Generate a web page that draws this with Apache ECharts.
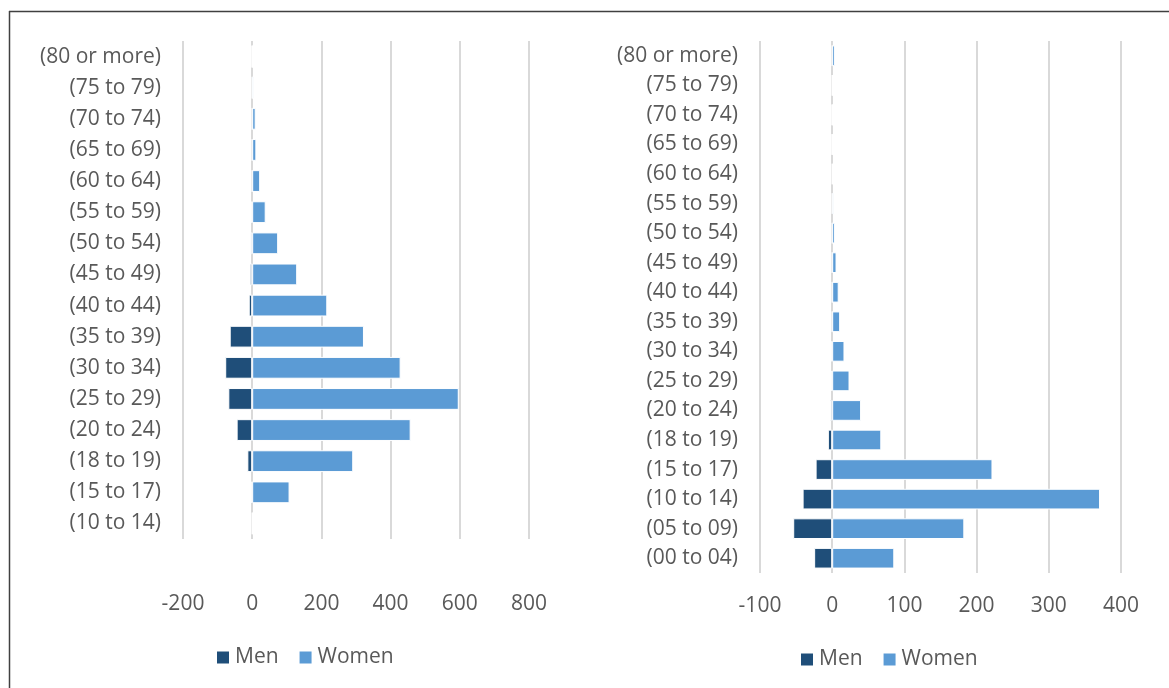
<!DOCTYPE html>
<html>
<head>
<meta charset="utf-8">
<script src="https://cdn.jsdelivr.net/npm/echarts@6/dist/echarts.min.js"></script>
<style>
  html, body { margin: 0; padding: 0; background: #fff; }
  #chart { width: 1169px; height: 688px; }
</style>
</head>
<body>
<div id="chart"></div>
<script>
// Left pyramid: age groups from bottom to top
const leftCategories = ['(10 to 14)', '(15 to 17)', '(18 to 19)', '(20 to 24)', '(25 to 29)', '(30 to 34)',
  '(35 to 39)', '(40 to 44)', '(45 to 49)', '(50 to 54)', '(55 to 59)', '(60 to 64)', '(65 to 69)',
  '(70 to 74)', '(75 to 79)', '(80 or more)'];
const leftMen = [0, -2, -14, -45, -69, -78, -65, -10, -7, -5, -2, 0, 0, 0, 0, 0];
const leftWomen = [2, 108, 292, 458, 597, 429, 323, 217, 130, 75, 39, 23, 12, 10, 4, 0];
const leftTicks = { min: -200, max: 800, interval: 200 };

// Right pyramid: age groups from bottom to top
const rightCategories = ['(00 to 04)', '(05 to 09)', '(10 to 14)', '(15 to 17)', '(18 to 19)', '(20 to 24)',
  '(25 to 29)', '(30 to 34)', '(35 to 39)', '(40 to 44)', '(45 to 49)', '(50 to 54)', '(55 to 59)',
  '(60 to 64)', '(65 to 69)', '(70 to 74)', '(75 to 79)', '(80 or more)'];
const rightMen = [-25, -54, -41, -23, -6, -3, -1, -1, 0, 0, 0, 0, 0, 0, 0, 0, 0, 0];
const rightWomen = [86, 183, 371, 222, 68, 40, 24, 17, 11, 9, 6, 4, 2, 1, 0, 0, 1, 4];
const rightTicks = { min: -100, max: 400, interval: 100 };

const MEN_COLOR = '#1F4E79';
const WOMEN_COLOR = '#5B9BD5';
const TEXT_COLOR = '#595959';
const FONT = '"Open Sans", sans-serif';
const FONT_SIZE = 21;

const chart = echarts.init(document.getElementById('chart'), null, { renderer: 'canvas' });

function valueAxis(gridIndex, ticks, labelMargin) {
  return {
    type: 'value', gridIndex,
    min: ticks.min, max: ticks.max, interval: ticks.interval,
    axisLine: { show: false }, axisTick: { show: false },
    axisLabel: { color: TEXT_COLOR, fontSize: FONT_SIZE, fontFamily: FONT, margin: labelMargin },
    splitLine: { show: true, lineStyle: { color: '#D9D9D9', width: 2 } }
  };
}

function categoryAxis(gridIndex, cats) {
  return {
    type: 'category', gridIndex, data: cats,
    axisLine: { show: false }, axisTick: { show: false },
    axisLabel: { color: TEXT_COLOR, fontSize: FONT_SIZE, fontFamily: FONT, margin: 22 }
  };
}

function barSeries(name, data, color, axisIndex) {
  return {
    name, type: 'bar', stack: 'pyramid' + axisIndex,
    xAxisIndex: axisIndex, yAxisIndex: axisIndex,
    data, barCategoryGap: '30%',
    itemStyle: { color, borderColor: '#ffffff', borderWidth: 1 },
    emphasis: { disabled: true }
  };
}

const legendStyle = {
  data: ['Men', 'Women'],
  orient: 'horizontal',
  padding: 0,
  itemWidth: 14, itemHeight: 14, itemGap: 19,
  icon: 'rect',
  textStyle: { color: TEXT_COLOR, fontSize: FONT_SIZE, fontFamily: FONT }
};

chart.setOption({
  animation: false,
  backgroundColor: '#ffffff',
  grid: [
    { left: 183, width: 346, top: 41, height: 498 },
    { left: 760, width: 361, top: 41, height: 532 }
  ],
  xAxis: [valueAxis(0, leftTicks, 55), valueAxis(1, rightTicks, 23)],
  yAxis: [categoryAxis(0, leftCategories), categoryAxis(1, rightCategories)],
  legend: [
    Object.assign({ left: 215, top: 647 }, legendStyle),
    Object.assign({ left: 799, top: 649 }, legendStyle)
  ],
  series: [
    barSeries('Men', leftMen, MEN_COLOR, 0),
    barSeries('Women', leftWomen, WOMEN_COLOR, 0),
    barSeries('Men', rightMen, MEN_COLOR, 1),
    barSeries('Women', rightWomen, WOMEN_COLOR, 1)
  ],
  graphic: [
    // frame: top and left edges
    { type: 'line', shape: { x1: 9, y1: 11.5, x2: 1169, y2: 11.5 }, style: { stroke: '#404040', lineWidth: 1.5 }, silent: true },
    { type: 'line', shape: { x1: 9.5, y1: 11, x2: 9.5, y2: 688 }, style: { stroke: '#404040', lineWidth: 1.5 }, silent: true }
  ]
});
</script>
</body>
</html>
